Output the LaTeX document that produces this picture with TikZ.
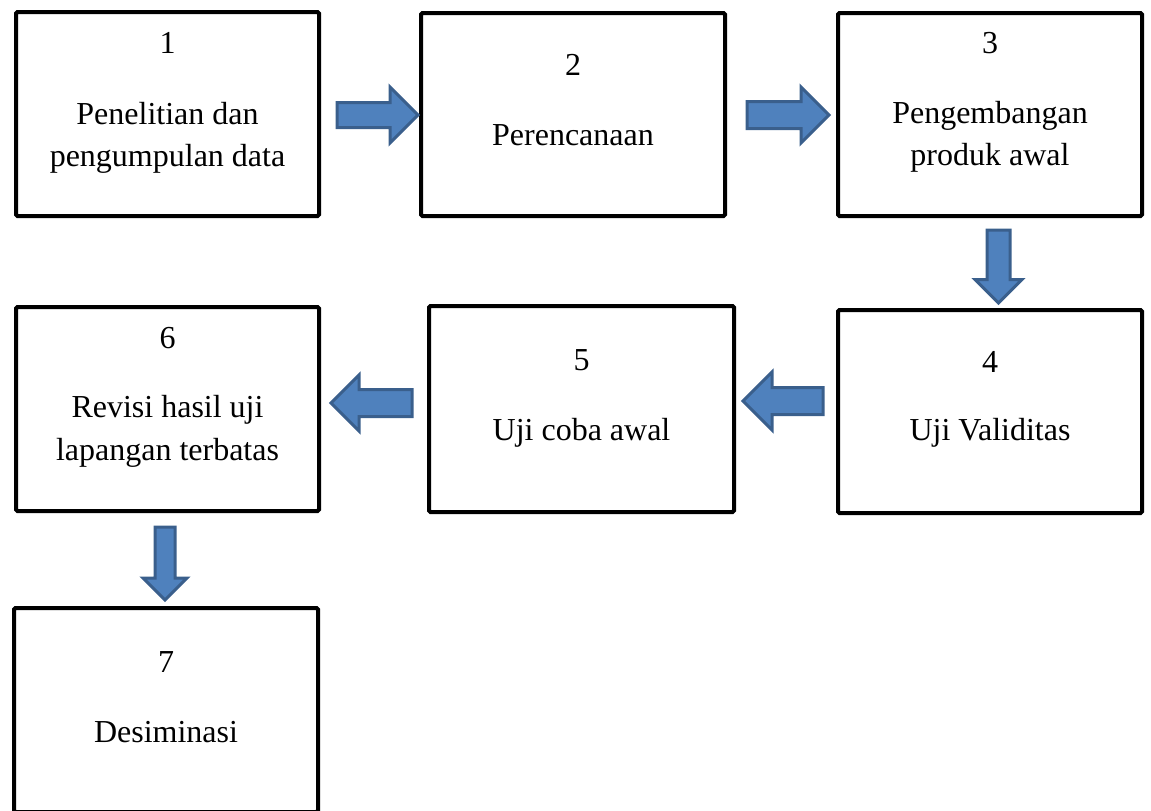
\documentclass[tikz,border=0pt]{standalone}
\usepackage{fontspec}
\setmainfont{Liberation Serif}
\usetikzlibrary{shapes.arrows,calc}
\definecolor{arrfill}{HTML}{4F81BD}
\definecolor{arrdraw}{HTML}{3A5F8C}
\tikzset{
  stepbox/.style={draw=black, line width=4pt, rounded corners=1.5pt, fill=white, inner sep=0pt},
  barrow/.style={single arrow, draw=arrdraw, fill=arrfill, line width=3pt, inner sep=0pt,
    text depth=0pt, single arrow tip angle=90, anchor=tail},
  txt/.style={anchor=base, inner sep=0pt, font=\fontsize{32}{38}\selectfont}
}
\begin{document}
\begin{tikzpicture}[x=1pt, y=-1pt]
\useasboundingbox (0,0) rectangle (1151,811);
% boxes
\node[stepbox, minimum width=303pt, minimum height=204pt] (b1) at (167.5,114) {};
\node[stepbox, minimum width=304pt, minimum height=203pt] (b2) at (573,114.5) {};
\node[stepbox, minimum width=304pt, minimum height=203pt] (b3) at (990,114.5) {};
\node[stepbox, minimum width=304pt, minimum height=203pt] (b4) at (990,411.5) {};
\node[stepbox, minimum width=305pt, minimum height=206pt] (b5) at (581.5,409) {};
\node[stepbox, minimum width=303pt, minimum height=204pt] (b6) at (167.5,409) {};
\node[stepbox, minimum width=304pt, minimum height=204pt] (b7) at (166,710) {};
% texts
\node[txt] (n1) at (167.5,53) {1};
\node[txt] (t1a) at (167.5,124) {Penelitian dan};
\node[txt] (t1b) at (167.5,166) {pengumpulan data};
\node[txt] (n2) at (573,75) {2};
\node[txt] (t2) at (573,145) {Perencanaan};
\node[txt] (n3) at (990,53) {3};
\node[txt] (t3a) at (990,123) {Pengembangan};
\node[txt] (t3b) at (990,165) {produk awal};
\node[txt] (n4) at (990,372) {4};
\node[txt] (t4) at (990,440) {Uji Validitas};
\node[txt] (n5) at (581.5,370) {5};
\node[txt] (t5) at (581.5,440) {Uji coba awal};
\node[txt] (n6) at (167.5,348) {6};
\node[txt] (t6a) at (167.5,417) {Revisi hasil uji};
\node[txt] (t6b) at (167.5,460) {lapangan terbatas};
\node[txt] (n7) at (166,672) {7};
\node[txt] (t7) at (166,742) {Desiminasi};
% block arrows
\node[barrow, text height=22pt, minimum height=81pt, minimum width=53pt, single arrow head extend=15.5pt]
  (a12) at ($(b1.east)+(14.5,1)$) {};
\node[barrow, text height=24pt, minimum height=82pt, minimum width=53pt, single arrow head extend=14.5pt]
  (a23) at ($(b2.east)+(18.5,0.5)$) {};
\node[barrow, rotate=-90, text height=20pt, minimum height=73pt, minimum width=44pt, single arrow head extend=12pt]
  (a34) at ($(b3.south)+(8.5,10.5)$) {};
\node[barrow, rotate=180, text height=24pt, minimum height=80pt, minimum width=55pt, single arrow head extend=15.5pt]
  (a45) at ($(b4.west)+(-11.5,-10.5)$) {};
\node[barrow, rotate=180, text height=24pt, minimum height=81pt, minimum width=53pt, single arrow head extend=14.5pt]
  (a56) at ($(b5.west)+(-13.5,-6)$) {};
\node[barrow, rotate=-90, text height=17pt, minimum height=73pt, minimum width=41pt, single arrow head extend=12pt]
  (a67) at ($(b6.south)+(-2.5,12.5)$) {};
\end{tikzpicture}
\end{document}
